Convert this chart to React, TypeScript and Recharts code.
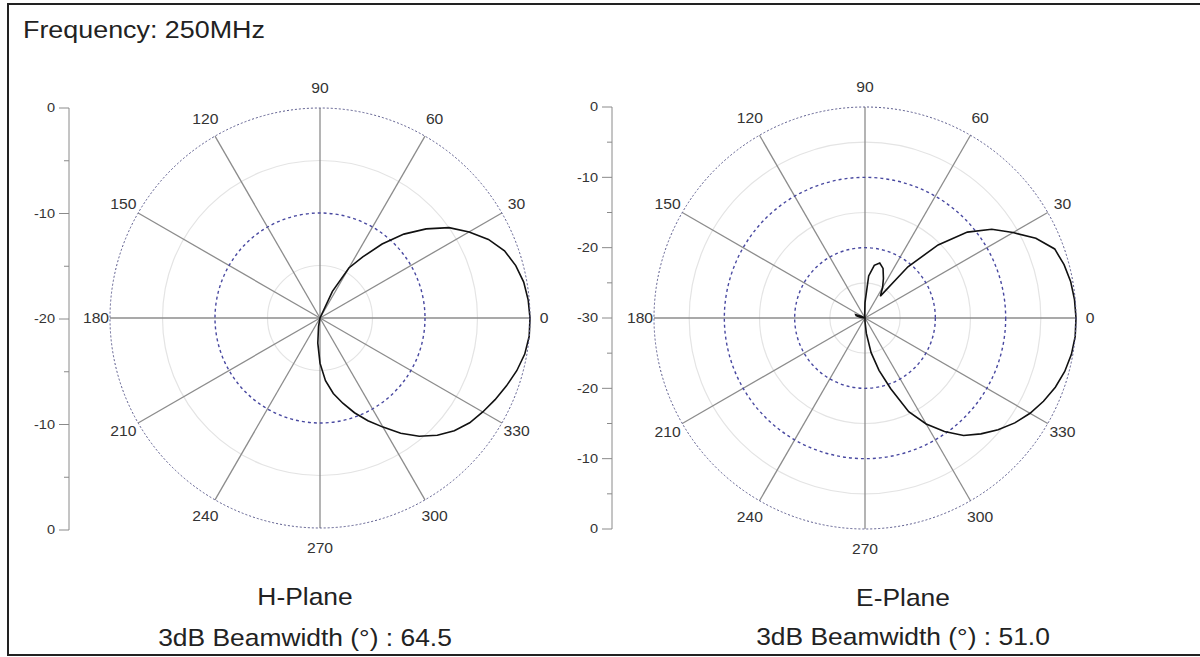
import React from 'react';
import {
  RadarChart,
  Radar,
  PolarGrid,
  PolarAngleAxis,
  PolarRadiusAxis,
  LineChart,
  Line,
  YAxis,
} from 'recharts';

// pattern sampled every 5 degrees, 0 = boresight, counter-clockwise
const angles = [
  0, 5, 10, 15, 20, 25, 30, 35, 40, 45, 50, 55, 60, 65, 70, 75, 80, 85,
  90, 95, 100, 105, 110, 115, 120, 125, 130, 135, 140, 145, 150, 155, 160, 165, 170, 175,
  180, 185, 190, 195, 200, 205, 210, 215, 220, 225, 230, 235, 240, 245, 250, 255, 260, 265,
  270, 275, 280, 285, 290, 295, 300, 305, 310, 315, 320, 325, 330, 335, 340, 345, 350, 355,
];

const hPlane = [
  0, -0.1, -0.3, -0.7, -1.3, -2.3, -3.6, -5.0, -6.8, -8.7, -10.8, -12.9, -14.5, -17.2, -20, -20, -20, -20,
  -20, -20, -20, -20, -20, -20, -20, -20, -20, -20, -20, -20, -20, -20, -20, -20, -20, -20,
  -20, -20, -20, -20, -20, -20, -20, -20, -20, -20, -20, -20, -20, -20, -20, -20, -19.2, -17.6,
  -15.7, -14.0, -12.7, -11.6, -10.4, -9.2, -8.0, -6.6, -5.3, -4.2, -3.3, -2.6, -2.1, -1.6, -1.1, -0.6, -0.2, 0,
];

const ePlane = [
  0, -0.1, -0.3, -0.7, -1.3, -3.2, -5.7, -8.0, -11.0, -15.3, -20.5, -26.2, -25.0, -23.8, -22.5, -21.9, -22.4, -24.0,
  -27.8, -29.5, -30, -30, -30, -30, -30, -30, -30, -30, -30, -30, -30, -29.4, -28.6, -28.7, -29.3, -30,
  -30, -30, -30, -30, -30, -30, -30, -30, -30, -30, -30, -30, -30, -30, -30, -30, -30, -30,
  -29.5, -27.8, -25.0, -22.3, -19.3, -15.3, -12.6, -10.3, -8.2, -6.7, -5.3, -4.0, -2.9, -2.0, -1.2, -0.6, -0.2, 0,
];

const spokeAngles = [0, 30, 60, 90, 120, 150, 180, 210, 240, 270, 300, 330];

const hRange = [-20, 0];
const hDotted = [-10];
const hFaint = [-15, -5];
const eRange = [-30, 0];
const eDotted = [-20, -10];
const eFaint = [-25, -15, -5];

const hScaleTicks = [-20, -15, -10, -5, 0, 5, 10, 15, 20];
const hScaleLabels = ['0', '', '-10', '', '-20', '', '-10', '', '0'];
const eScaleTicks = [-30, -25, -20, -15, -10, -5, 0, 5, 10, 15, 20, 25, 30];
const eScaleLabels = ['0', '', '-10', '', '-20', '', '-30', '', '-20', '', '-10', '', '0'];

const W = 1200;
const H = 657;
const FONT = '"Liberation Sans", Arial, sans-serif';
// band angle axis puts category i at start + (i + 1) * step, so start one step early
const STEP = 360 / angles.length;

const hData = angles.map((a, i) => ({ angle: a, value: hPlane[i] }));
const eData = angles.map((a, i) => ({ angle: a, value: ePlane[i] }));

const makeAngleTick = (cx: number, cy: number, r: number) => (props: any) => {
  const deg = Number(props.payload.value);
  if (deg % 30 !== 0) return <g />;
  const c = Math.cos((deg * Math.PI) / 180);
  const s = Math.sin((deg * Math.PI) / 180);
  const d = r + 14 + 6 * Math.abs(s);
  return (
    <text
      transform={`translate(${cx + c * d},${cy - s * d}) scale(1.12,1)`}
      textAnchor="middle"
      dominantBaseline="central"
      fontSize={14}
      fontFamily={FONT}
      fill="#333"
    >
      {deg}
    </text>
  );
};

const ScaleTick = (props: any) => {
  const { x, y, payload, tickValues, labels } = props;
  const label = labels[tickValues.indexOf(payload.value)];
  const major = label !== '';
  return (
    <g>
      <line x1={x - (major ? 10 : 5)} x2={x} y1={y} y2={y} stroke="#8a8a8a" strokeWidth={1} />
      {major && (
        <text
          transform={`translate(${x - 14},${y}) scale(1.12,1)`}
          textAnchor="end"
          dominantBaseline="central"
          fontSize={13}
          fontFamily={FONT}
          fill="#333"
        >
          {label}
        </text>
      )}
    </g>
  );
};

interface PanelProps {
  data: { angle: number; value: number }[];
  range: number[];
  dotted: number[];
  faint: number[];
  cx: number;
  cy: number;
  r: number;
}

const PolarPanel: React.FC<PanelProps> = ({ data, range, dotted, faint, cx, cy, r }) => {
  // faint rings at the same linear radius mapping as the radius axis
  const faintRadii = faint.map((v) => ((v - range[0]) / (range[1] - range[0])) * r);
  return (
    <div style={{ position: 'absolute', left: 0, top: 0 }}>
      <RadarChart
        width={W}
        height={H}
        data={data}
        cx={cx}
        cy={cy}
        outerRadius={r}
        startAngle={-STEP}
        endAngle={360 - STEP}
      >
        <PolarGrid gridType="circle" polarAngles={[]} polarRadius={faintRadii} radialLines={false} stroke="#e4e4e4" strokeWidth={1.2} />
        <PolarGrid gridType="circle" polarAngles={spokeAngles} polarRadius={[]} stroke="#8c8c8c" strokeWidth={1.3} />
        <PolarGrid gridType="circle" radialLines={false} stroke="#4848a0" strokeWidth={1.4} strokeDasharray="3 3" />
        <PolarAngleAxis
          dataKey="angle"
          tick={makeAngleTick(cx, cy, r)}
          tickLine={false}
          axisLineType="circle"
          axisLine={{ stroke: '#5a5a8c', strokeWidth: 1, strokeDasharray: '2 2' }}
        />
        <PolarRadiusAxis domain={range} type="number" ticks={dotted} tick={false} axisLine={false} />
        <Radar dataKey="value" stroke="#111" strokeWidth={1.6} fill="none" fillOpacity={0} dot={false} isAnimationActive={false} />
      </RadarChart>
    </div>
  );
};

const ScalePanel = ({ left, top, ticks, labels }: { left: number; top: number; ticks: number[]; labels: string[] }) => (
  <div style={{ position: 'absolute', left, top }}>
    <LineChart width={80} height={442} data={[{ v: 0 }, { v: 0 }]} margin={{ top: 10, right: 10, bottom: 10, left: 0 }}>
      <YAxis
        type="number"
        domain={[ticks[0], ticks[ticks.length - 1]]}
        allowDataOverflow
        ticks={ticks}
        interval={0}
        width={69}
        tickSize={0}
        tickMargin={0}
        tickLine={false}
        stroke="#8a8a8a"
        tick={(p: any) => <ScaleTick {...p} tickValues={ticks} labels={labels} />}
      />
      <Line dataKey="v" stroke="none" dot={false} isAnimationActive={false} />
    </LineChart>
  </div>
);

const textStyle = { fontFamily: FONT, fontSize: 24, fill: '#222' };

export default function App() {
  return (
    <div style={{ position: 'absolute', left: 0, top: 0, width: W, height: H, background: '#fff' }}>
      <svg width={W} height={H} style={{ position: 'absolute', left: 0, top: 0 }}>
        <line x1={8} x2={W} y1={4} y2={4} stroke="#222" strokeWidth={2} />
        <line x1={8} x2={8} y1={3} y2={656} stroke="#222" strokeWidth={2} />
        <line x1={8} x2={W} y1={655} y2={655} stroke="#222" strokeWidth={2} />
        <text transform="translate(23,38) scale(1.12,1)" {...textStyle}>Frequency: 250MHz</text>
        <text transform="translate(305,605) scale(1.1,1)" textAnchor="middle" {...textStyle}>H-Plane</text>
        <text transform="translate(305,646) scale(1.1,1)" textAnchor="middle" {...textStyle}>3dB Beamwidth (°) : 64.5</text>
        <text transform="translate(903,606) scale(1.1,1)" textAnchor="middle" {...textStyle}>E-Plane</text>
        <text transform="translate(903,645) scale(1.1,1)" textAnchor="middle" {...textStyle}>3dB Beamwidth (°) : 51.0</text>
      </svg>
      <ScalePanel left={0} top={98} ticks={hScaleTicks} labels={hScaleLabels} />
      <ScalePanel left={543} top={97} ticks={eScaleTicks} labels={eScaleLabels} />
      <PolarPanel data={hData} range={hRange} dotted={hDotted} faint={hFaint} cx={320} cy={318} r={210} />
      <PolarPanel data={eData} range={eRange} dotted={eDotted} faint={eFaint} cx={865} cy={318} r={211} />
    </div>
  );
}
